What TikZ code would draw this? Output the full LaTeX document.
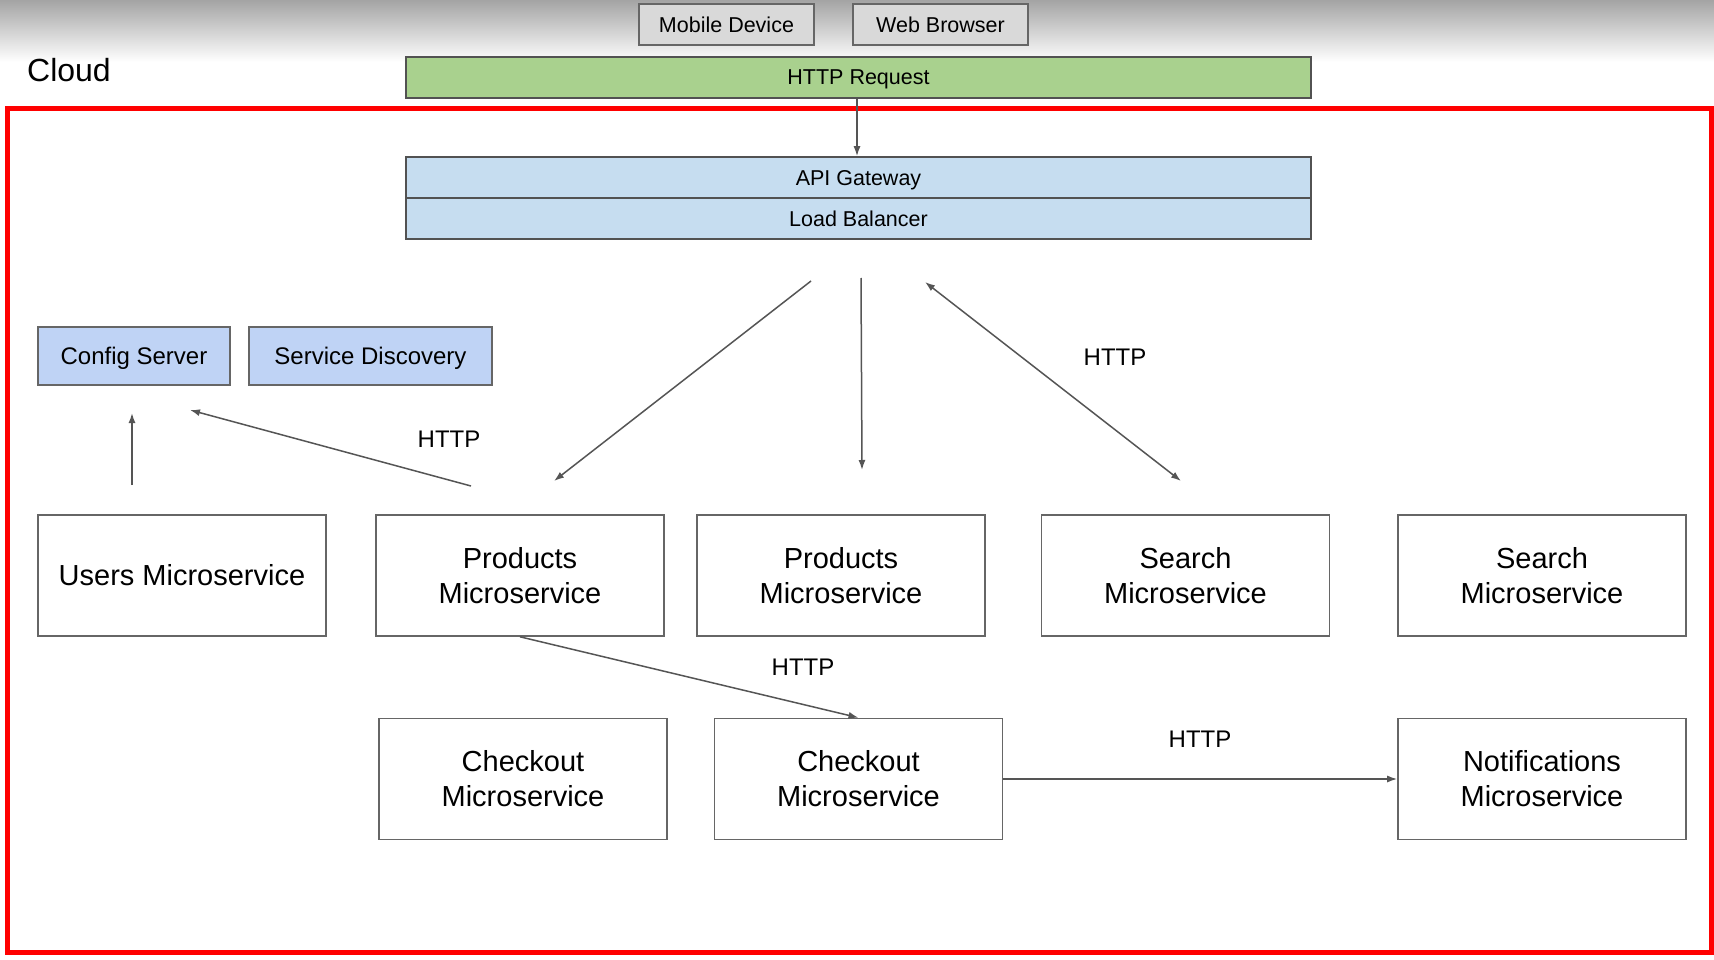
\documentclass[tikz,border=0pt]{standalone}
\usepackage{fontspec}
\setmainfont{Liberation Sans}
\usetikzlibrary{arrows.meta}

\definecolor{edgegray}{HTML}{666666}
\definecolor{linkgray}{HTML}{555555}
\definecolor{reqgreen}{HTML}{A9D18E}
\definecolor{gwblue}{HTML}{C6DDF0}
\definecolor{infrablue}{HTML}{BFD3F5}
\definecolor{clientgray}{HTML}{D9D9D9}
\definecolor{topgray}{HTML}{A4A4A4}

\tikzset{
  client/.style={draw=edgegray, line width=1.6pt, fill=clientgray,
    minimum width=175pt, minimum height=41pt, inner sep=0pt, text depth=0pt,
    font=\fontsize{21.5}{25}\selectfont},
  bar/.style={draw=edgegray!80!black, line width=1.6pt,
    minimum width=905pt, minimum height=41pt, inner sep=0pt, text depth=0pt,
    font=\fontsize{21.5}{25}\selectfont},
  infra/.style={draw=edgegray, line width=1.6pt, fill=infrablue,
    minimum height=58pt, inner sep=0pt, text depth=0pt,
    font=\fontsize{24}{28}\selectfont},
  svc/.style={draw=edgegray, line width=1.6pt, fill=white,
    minimum width=288pt, minimum height=121pt, inner sep=0pt, align=center,
    font=\fontsize{29}{35}\selectfont},
  link/.style={draw=linkgray, line width=1.5pt,
    -{Latex[length=10pt,width=7pt]}},
  duplex/.style={draw=linkgray, line width=1.5pt,
    {Latex[length=10pt,width=7pt]}-{Latex[length=10pt,width=7pt]}},
  proto/.style={font=\fontsize{24}{28}\selectfont, inner sep=0pt},
}

\begin{document}
\begin{tikzpicture}[x=1pt, y=-1pt]
  % canvas and soft grey band along the top edge
  \useasboundingbox (0,0) rectangle (1714,960);
  \fill[white] (0,0) rectangle (1714,960);
  \shade[top color=topgray, bottom color=white] (0,0) rectangle (1714,62);

  % clients
  \node[client] (mobile) at (726.5,24.5) {Mobile Device};
  \node[client] (browser) at (940.5,24.5) {Web Browser};

  % cloud boundary
  \node[font=\fontsize{32}{36}\selectfont, anchor=west, inner sep=0pt] (cloudlbl) at (27,70) {Cloud};
  \draw[red, line width=5pt] (7,109) rectangle (1711,952);

  % request and edge layer
  \node[bar, fill=reqgreen] (req) at (858.5,77.5) {HTTP Request};
  \node[bar, fill=gwblue] (gw) at (858.5,177.5) {API Gateway};
  \node[bar, fill=gwblue] (lb) at (858.5,218.5) {Load Balancer};

  % infrastructure services
  \node[infra, minimum width=192pt] (config) at (134,356) {Config Server};
  \node[infra, minimum width=243pt] (discovery) at (370.5,356) {Service Discovery};

  % microservice instances
  \node[svc] (users) at (182,575.5) {Users Microservice};
  \node[svc] (prodA) at (520,575.5) {Products\\Microservice};
  \node[svc] (prodB) at (841,575.5) {Products\\Microservice};
  \node[svc] (searchA) at (1185.5,575.5) {Search\\Microservice};
  \node[svc] (searchB) at (1542,575.5) {Search\\Microservice};
  \node[svc] (checkA) at (523,779) {Checkout\\Microservice};
  \node[svc] (checkB) at (858.5,779) {Checkout\\Microservice};
  \node[svc] (notify) at (1542,779) {Notifications\\Microservice};

  % free ends of the floating connectors
  \coordinate (lbL) at (811,281);
  \coordinate (prodAin) at (554,481);
  \coordinate (lbM) at (861,278);
  \coordinate (prodBin) at (862,470);
  \coordinate (lbR) at (925,282);
  \coordinate (searchAin) at (1181,481);
  \coordinate (usersOut) at (132,485);
  \coordinate (configInA) at (132,413);
  \coordinate (prodAout) at (471,486);
  \coordinate (configInB) at (190,410);

  % connectors
  \draw[link] (req.south -| 857,0) -- (gw.north -| 857,0);
  \draw[link] (lbL) -- (prodAin);
  \draw[link] (lbM) -- (prodBin);
  \draw[duplex] (lbR) -- (searchAin);
  \draw[link] (usersOut) -- (configInA);
  \draw[link] (prodAout) -- (configInB);
  \draw[link] (prodA.south) -- (checkB.north);
  \draw[link] (checkB.east) -- (notify.west);

  % protocol labels
  \node[proto] (httpA) at (1115,357) {HTTP};
  \node[proto] (httpB) at (449,439) {HTTP};
  \node[proto] (httpC) at (803,667) {HTTP};
  \node[proto] (httpD) at (1200,739) {HTTP};
\end{tikzpicture}
\end{document}
